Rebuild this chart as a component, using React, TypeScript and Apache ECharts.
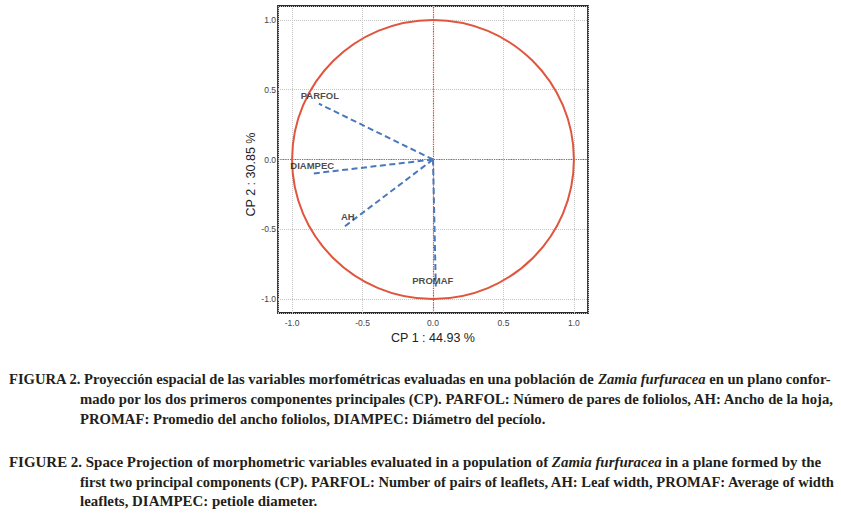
import React, { useEffect, useRef } from 'react';
import * as echarts from 'echarts';

// ---- data ----
const variables = ['PARFOL', 'DIAMPEC', 'AH', 'PROMAF'];
const cp1Loadings = [-0.81, -0.85, -0.64, 0.02];
const cp2Loadings = [0.4, -0.1, -0.49, -0.91];
const circleRadius = [1];
const axisRange = [-1.1, 1.1];
const xAxisTitle = 'CP 1 : 44.93 %';
const yAxisTitle = 'CP 2 : 30.85 %';
const captionLines = [
  'FIGURA 2. Proyección espacial de las variables morfométricas evaluadas en una población de {i|Zamia furfuracea} en un plano confor-',
  'mado por los dos primeros componentes principales (CP). PARFOL: Número de pares de foliolos, AH: Ancho de la hoja,',
  'PROMAF: Promedio del ancho foliolos, DIAMPEC: Diámetro del pecíolo.',
  'FIGURE 2. Space Projection of morphometric variables evaluated in a population of {i|Zamia furfuracea} in a plane formed by the',
  'first two principal components (CP). PARFOL: Number of pairs of leaflets, AH: Leaf width, PROMAF: Average of width',
  'leaflets, DIAMPEC: petiole diameter.',
];

// ---- layout / style ----
const labelOffsets: Record<string, number[]> = {
  PARFOL: [1, -8],
  DIAMPEC: [-1, -8],
  AH: [5, -11],
  PROMAF: [-3, -6],
};
const captionPos = [
  [9, 379], [80, 399], [80, 419], [9, 462], [80, 482], [80, 501],
];
const captionSize = [14.6, 14.7, 14.7, 14.95, 14.6, 14.9];

export default function App() {
  const ref = useRef<HTMLDivElement>(null);
  useEffect(() => {
    document.body.style.margin = '0';
    const chart = echarts.init(ref.current!, null, { renderer: 'svg' });
    const axisFont = 'Liberation Sans';
    const blue = '#4a78bd';
    const fmt = (v: number) => v.toFixed(1);

    const vectorSeries = variables.map((name, i) => ({
      type: 'line',
      name,
      data: [[0, 0], [cp1Loadings[i], cp2Loadings[i]]],
      symbol: 'none',
      showSymbol: false,
      lineStyle: { color: blue, width: 2, type: [6, 3.5] },
      z: 6,
      silent: true,
      ...(i === 0
        ? {
            markLine: {
              silent: true,
              symbol: ['none', 'none'],
              label: { show: false },
              lineStyle: { color: '#e2432f', type: 'dotted', width: 1.2 },
              data: [{ xAxis: 0 }, { yAxis: 0 }],
              z: 2,
            },
          }
        : {}),
    }));

    const option: any = {
      animation: false,
      backgroundColor: '#ffffff',
      grid: {
        left: 278,
        top: 6,
        width: 310,
        height: 307,
        show: true,
        borderColor: '#2a2a2a',
        borderWidth: 1.8,
        backgroundColor: 'transparent',
      },
      xAxis: {
        type: 'value',
        min: axisRange[0],
        max: axisRange[1],
        axisLine: { show: false },
        axisTick: { show: false },
        axisLabel: {
          showMinLabel: false,
          showMaxLabel: false,
          formatter: fmt,
          fontSize: 8.5,
          color: '#444',
          margin: 5,
          fontFamily: axisFont,
        },
        splitLine: { show: true, lineStyle: { color: '#c4c4c4', type: 'dotted', width: 1 } },
        name: xAxisTitle,
        nameLocation: 'middle',
        nameGap: 18,
        nameTextStyle: { fontSize: 12.5, color: '#222', fontFamily: axisFont },
      },
      yAxis: {
        type: 'value',
        min: axisRange[0],
        max: axisRange[1],
        axisLine: { show: false },
        axisTick: { show: false },
        axisLabel: {
          showMinLabel: false,
          showMaxLabel: false,
          formatter: fmt,
          fontSize: 8.5,
          color: '#444',
          margin: 2,
          fontFamily: axisFont,
        },
        splitLine: { show: true, lineStyle: { color: '#c4c4c4', type: 'dotted', width: 1 } },
        name: yAxisTitle,
        nameLocation: 'middle',
        nameGap: 18,
        nameTextStyle: { fontSize: 12.5, color: '#222', fontFamily: axisFont, padding: [0, 30, 0, 0] },
      },
      series: [
        {
          type: 'custom',
          coordinateSystem: 'cartesian2d',
          data: circleRadius.map((r) => [0, 0, r]),
          silent: true,
          z: 4,
          renderItem: (_p: any, api: any) => {
            const c = api.coord([api.value(0), api.value(1)]);
            const r = api.value(2);
            const s = api.size([r, r]);
            return {
              type: 'ellipse',
              shape: { cx: c[0], cy: c[1], rx: s[0], ry: s[1] },
              style: { fill: 'none', stroke: '#e0553e', lineWidth: 2 },
            };
          },
        },
        ...vectorSeries,
        {
          type: 'scatter',
          data: variables.map((name, i) => ({
            name,
            value: [cp1Loadings[i], cp2Loadings[i]],
            label: { offset: labelOffsets[name] },
          })),
          symbolSize: 1,
          itemStyle: { color: 'transparent' },
          silent: true,
          z: 8,
          label: {
            show: true,
            position: 'inside',
            formatter: '{b}',
            fontSize: 9.5,
            fontWeight: 'bold',
            color: '#1a1a1a',
            fontFamily: axisFont,
          },
        },
      ],
      graphic: captionLines.map((t, i) => ({
        type: 'text',
        x: captionPos[i][0],
        y: captionPos[i][1],
        silent: true,
        style: {
          text: t,
          fontFamily: 'Liberation Serif',
          fontSize: captionSize[i],
          fontWeight: 'bold',
          fill: '#231f20',
          verticalAlign: 'middle',
          rich: {
            i: {
              fontFamily: 'Liberation Serif',
              fontSize: captionSize[i],
              fontWeight: 'bold',
              fontStyle: 'italic',
              fill: '#231f20',
            },
          },
        },
      })),
    };
    chart.setOption(option);
    return () => chart.dispose();
  }, []);
  return <div ref={ref} style={{ width: 841, height: 514 }} />;
}
